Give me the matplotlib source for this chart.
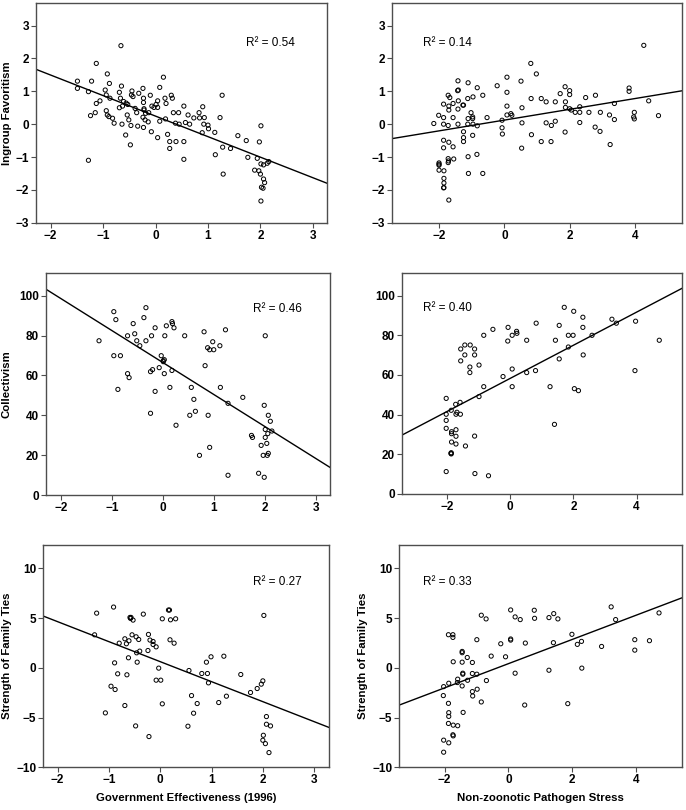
import matplotlib
matplotlib.use("Agg")
import matplotlib.pyplot as plt
import numpy as np

plt.rcParams['font.family'] = ['Liberation Sans', 'DejaVu Sans']

# ---------------- data ----------------
# Panel 1: Government effectiveness vs Ingroup favoritism
p1_x = [-0.66, -1.13, -1.49, -1.49, -1.22, -1.28, -0.92, -0.88, -0.65, -0.96, -0.94, -0.69, -1.06, -1.13,
        -0.87, -0.67, -0.45, -0.43, -0.46, -0.32, -0.24, -0.23, -0.23, -0.61, -0.56, -0.53, -0.69, -0.63,
        -0.94, -1.15, -1.24, -0.92, -0.89, -0.82, -0.79, -0.64, -0.54, -0.51, -0.47, -0.57, -0.48, -0.39,
        -0.36, -0.34, -0.23, -0.22, -0.22, -0.19, -0.24, -0.20, -0.14, -0.13, -0.10, -0.07, -0.03, 0.01,
        0.04, 0.04, 0.08, 0.15, -0.08, 0.04, 0.08, 0.18, 0.20, 0.19, 0.23, 0.27, 0.27, 0.30, 0.32, 0.34,
        0.38, 0.39, 0.44, 0.45, 0.54, 0.54, 0.54, 0.57, 0.62, 0.65, 0.73, 0.83, 0.84, 0.90, 0.93, 0.92,
        0.89, 1.00, 1.01, 1.13, 1.14, 1.23, 1.27, 1.28, 1.29, 1.43, 1.57, 1.73, 1.76, 1.94, 1.98, 2.01,
        2.01, 2.06, 2.13, 2.16, 1.89, 1.97, 2.00, 2.06, 2.08, 2.02, 2.05, 2.01, -1.28]
p1_y = [2.39, 1.85, 1.31, 1.09, 1.31, 0.99, 1.53, 1.24, 1.16, 1.04, 0.89, 0.97, 0.71, 0.63,
        0.79, 0.79, 1.01, 0.84, 0.89, 0.94, 1.09, 0.79, 0.66, 0.69, 0.64, 0.60, 0.50, 0.55,
        0.41, 0.35, 0.26, 0.28, 0.23, 0.18, 0.03, 0.00, 0.28, 0.13, -0.04, -0.33, -0.63, 0.48,
        0.35, -0.06, -0.10, 0.47, 0.43, 0.33, 0.21, 0.13, 0.07, 0.35, 0.88, 0.55, 0.51, 0.60,
        0.71, 0.51, 1.12, 1.43, -0.23, -0.41, 0.09, 0.79, 0.63, 0.16, -0.31, -0.53, -0.74, 0.88, 0.79, 0.35,
        0.03, -0.53, 0.35, 0.00, 0.55, -0.53, -1.07, 0.05, 0.28, 0.00, 0.19, 0.35, 0.19, 0.53, 0.20, 0.00,
        -0.26, -0.03, -0.14, -0.25, -0.93, 0.20, 0.88, -0.70, -1.52, -0.74, -0.35, -0.50, -1.01, -1.04, -0.54, -0.05,
        -1.21, -1.24, -1.19, -1.14, -1.40, -1.42, -1.52, -1.67, -1.78, -1.92, -1.95, -2.34, -1.10]

# Panel 2: Non-zoonotic pathogen stress vs Ingroup favoritism
p2_x = [-2.16, -2.01, -1.86, -1.86, -1.86, -1.72, -1.67, -1.70, -1.70, -1.72, -1.86, -1.70, -1.86, -1.57,
        -1.57, -1.57, -1.55, -1.42, -1.43, -1.41, -1.41, -1.42, -1.42, -1.27, -1.25, -1.25, -1.25, -1.25,
        -1.11, -1.12, -1.11, -1.12, -1.11, -1.10, -1.02, -0.96, -0.97, -0.97, -0.96, -0.97, -0.83, -0.83,
        -0.84, -0.66, -0.66, -2.00, -2.00, -2.00, -2.00, -1.85, -1.72, -1.71, -1.72, -1.85, -1.85, -1.85,
        -1.86, -1.70, -0.53, -0.22, -0.07, -0.07, -0.06, 0.08, 0.08, 0.08, 0.08, 0.20, 0.23, 0.51, 0.54,
        0.54, 0.53, 0.81, 0.82, 0.83, 0.98, 1.13, 1.13, 1.28, 1.28, 1.43, 1.44, 1.56, 1.56, 1.71, 1.86,
        1.87, 1.87, 1.86, 2.00, 2.00, 2.00, 2.05, 2.17, 2.31, 2.31, 2.31, 2.49, 2.59, 2.79, 2.78, 2.93,
        2.94, 3.22, 3.24, 3.37, 3.37, 3.82, 3.82, 3.98, 3.96, 3.98, 4.27, 4.42, 4.72]
p2_y = [0.02, 0.27, 0.20, 0.61, 0.00, 0.88, 0.81, 0.55, 0.43, -0.04, -0.49, -0.55, -0.72, 0.63,
        0.20, -0.69, -1.06, 1.32, 1.02, 1.04, 0.71, 0.46, 0.00, 0.58, 0.58, -0.23, -0.41, -0.53,
        1.26, 0.78, 0.17, 0.00, -0.99, -1.50, 0.35, 0.83, 0.22, 0.17, 0.00, -0.34, 1.11, -0.05,
        -0.92, 0.88, -1.50, -1.18, -1.22, -1.25, -1.40, -1.42, -1.05, -1.12, -1.17, -1.65, -1.79, -1.93,
        -1.94, -2.31, 0.20, 1.17, 0.12, -0.11, -0.30, 1.43, 0.97, 0.55, 0.28, 0.32, 0.27, 1.31, 0.50,
        0.04, -0.73, 1.85, 0.78, -0.32, 1.53, 0.78, -0.53, 0.68, 0.04, -0.53, -0.04, 0.68, 0.09, 0.93, 1.14,
        0.68, 0.51, -0.24, 1.02, 0.90, 0.47, 0.43, 0.36, 0.53, 0.36, 0.05, 0.81, 0.36, 0.88, -0.09, -0.22,
        0.36, 0.28, -0.62, 0.63, 0.14, 1.10, 1.00, 0.36, 0.22, 0.16, 2.40, 0.71, 0.26]

# Panel 3: Government effectiveness vs Collectivism
p3_x = [-1.25, -0.96, -0.92, -0.96, -0.83, -0.88, -0.69, -0.69, -0.66, -0.58, -0.55, -0.51, -0.45, -0.37,
        -0.33, -0.33, -0.24, -0.24, -0.22, -0.20, -0.15, -0.15, -0.07, -0.03, 0.01, 0.01, 0.03, 0.03,
        0.04, 0.07, 0.14, 0.18, 0.18, 0.19, 0.22, 0.26, 0.43, 0.53, 0.56, 0.61, 0.64, 0.72, 0.81, 0.83,
        0.88, 0.89, 0.92, 0.92, 0.98, 1.00, 1.12, 1.13, 1.23, 1.28, 1.28, 1.57, 1.74, 1.76, 1.93, 1.88,
        1.99, 2.01, 1.97, 1.99, 2.01, 2.01, 2.04, 2.06, 2.05, 2.07, 2.07, 2.11, 2.14]
p3_y = [77.4, 92.0, 88.0, 69.9, 69.9, 53.0, 79.9, 60.9, 58.9, 86.0, 80.9, 77.4, 74.9, 89.0,
        94.0, 77.4, 61.9, 41.0, 79.9, 62.9, 83.9, 52.0, 63.9, 69.9, 67.4, 66.9, 67.9, 60.9,
        79.9, 84.9, 54.0, 62.5, 87.0, 86.0, 83.9, 35.0, 79.9, 40.0, 54.0, 48.0, 42.0, 19.9, 81.9, 64.9,
        73.9, 40.0, 72.9, 23.9, 76.9, 72.9, 74.9, 54.0, 82.9, 46.0, 9.9, 49.0, 29.9, 28.9, 24.9, 10.9,
        45.0, 79.9, 19.9, 8.9, 32.9, 28.9, 25.9, 30.8, 19.9, 20.9, 40.0, 37.0, 32.1]

# Panel 4: Non-zoonotic pathogen stress vs Collectivism
p4_x = [-2.03, -2.03, -2.03, -2.03, -2.03, -1.87, -1.86, -1.86, -1.86, -1.87, -1.87, -1.88, -1.73, -1.72,
        -1.69, -1.72, -1.72, -1.72, -1.59, -1.58, -1.57, -1.57, -1.44, -1.44, -1.42, -1.27, -1.28, -1.28,
        -1.13, -1.13, -1.13, -1.12, -0.99, -0.99, -0.84, -0.84, -0.69, -0.55, -0.23, -0.08, -0.07, 0.06,
        0.06, 0.06, 0.20, 0.21, 0.52, 0.52, 0.80, 0.82, 1.26, 1.40, 1.43, 1.55, 1.55, 1.71, 1.84, 1.84,
        1.99, 2.01, 2.03, 2.16, 2.30, 2.30, 2.31, 2.59, 3.22, 3.36, 3.97, 3.95, 4.72]
p4_y = [48.2, 40.2, 37.1, 33.1, 11.3, 42.2, 31.4, 30.4, 26.2, 20.8, 20.2, 20.5, 45.2, 40.2,
        41.2, 32.4, 29.1, 25.2, 46.2, 40.2, 67.1, 73.1, 75.1, 70.1, 24.2, 75.1, 64.0, 61.2,
        73.1, 70.1, 29.2, 10.3, 65.0, 49.1, 54.1, 80.0, 9.2, 83.0, 59.2, 77.1, 84.0, 80.0,
        63.0, 54.1, 82.0, 81.0, 77.5, 61.2, 62.2, 86.1, 54.1, 35.1, 77.5, 85.0, 68.1, 94.1, 80.0, 74.1,
        80.0, 92.1, 53.1, 52.1, 89.1, 84.0, 70.1, 80.0, 88.1, 86.1, 87.1, 62.2, 77.5]

# Panel 5: Government effectiveness vs Strength of family ties
p5_x = [-1.24, -1.28, -0.91, -0.89, -0.96, -0.88, -1.07, -0.83, -0.80, -0.69, -0.66, -0.61, -0.65, -0.62,
        -0.69, -0.59, -0.57, -0.58, -0.53, -0.55, -0.47, -0.42, -0.46, -0.40, -0.45, -0.48, -0.33, -0.23,
        -0.20, -0.14, -0.14, -0.08, -0.24, -0.03, -0.08, 0.01, 0.04, -0.22, 0.04, 0.16, 0.18, 0.20, 0.19,
        0.27, 0.30, 0.56, 0.54, 0.61, 0.65, 0.72, 0.81, 0.90, 0.92, 0.94, 0.99, 1.14, 1.24, 1.29, 1.57,
        1.76, 1.89, 1.97, 2.00, 2.02, 2.01, 2.00, 2.05, 2.07, 2.07, 2.15, 2.12]
p5_y = [5.50, 3.32, 6.11, 0.50, -1.85, -2.18, -4.53, -0.60, 2.48, 2.92, 2.42, 2.72, -0.70, 1.01,
        -3.79, 5.07, 5.07, 4.97, 4.80, 3.32, 3.12, 2.85, 1.51, 1.68, 0.57, -5.84, 5.40, 3.36,
        2.79, 2.65, 2.35, 2.11, 1.74, -0.03, -1.24, -1.24, -3.62, -6.91, 4.93, 5.81, 5.81, 4.83, 2.82,
        2.48, 4.93, -0.27, -5.87, -2.79, -4.56, -3.59, -0.57, 0.57, -0.57, -1.51, 1.11, -3.49, 1.17, -2.85, -0.67,
        -2.48, -2.08, -1.64, -1.31, 5.27, -6.78, -7.28, -7.62, -4.90, -5.67, -5.84, -8.52]

# Panel 6: Non-zoonotic pathogen stress vs Strength of family ties
p6_x = [-2.03, -2.04, -2.03, -2.03, -1.87, -1.88, -1.88, -1.87, -1.87, -1.88, -1.87, -1.74, -1.74, -1.73,
        -1.73, -1.74, -1.73, -1.59, -1.59, -1.60, -1.45, -1.45, -1.45, -1.43, -1.43, -1.45, -1.42, -1.29,
        -1.28, -1.13, -1.13, -1.13, -1.12, -0.99, -0.99, -0.98, -0.85, -0.85, -0.70, -0.69, -0.54, -0.24,
        -0.09, 0.07, 0.07, 0.07, 0.21, 0.21, 0.37, 0.53, 0.51, 0.81, 0.82, 1.27, 1.27, 1.42, 1.41, 1.55,
        1.86, 1.99, 2.16, 2.29, 2.30, 2.92, 3.22, 3.36, 3.96, 3.96, 4.42, 4.72]
p6_y = [-1.89, -2.79, -8.48, -7.27, -1.55, 3.33, -3.57, -4.51, -4.88, -5.59, -7.54, 3.33, 3.06, 0.61,
        -5.76, -6.73, -6.84, -5.82, -1.14, -1.48, 1.65, 1.52, 0.57, -0.54, -0.64, -1.82, -4.48, 1.04,
        -1.25, 0.54, -0.57, -2.39, -2.83, 2.83, -0.64, -2.15, -3.43, 5.29, 4.92, -1.28, 1.18, 2.42,
        1.11, 5.82, 2.90, 2.79, 5.12, -0.54, 4.85, 2.49, -3.74, 5.79, 4.98, 5.05, -0.24, 5.45, 2.53, 4.92,
        -3.60, 3.37, 2.36, 2.66, -0.03, 2.15, 6.13, 4.85, 2.83, 1.78, 2.73, 5.52]

# fitted regression lines (slope, intercept) and R^2 labels
fit_slopes = [-0.625, 0.164, -16.05, 8.34, -2.01, 1.217]
fit_intercepts = [0.245, 0.124, 66.5, 58.3, 0.62, 0.42]
r2_labels = ["R\u00b2 = 0.54", "R\u00b2 = 0.14", "R\u00b2 = 0.46", "R\u00b2 = 0.40", "R\u00b2 = 0.27", "R\u00b2 = 0.33"]

y_labels = ["Ingroup Favoritism", "", "Collectivism", "", "Strength of Family Ties", "Strength of Family Ties"]
x_labels = ["", "", "", "", "Government Effectiveness (1996)", "Non-zoonotic Pathogen Stress"]

x_ticks_ge = [-2, -1, 0, 1, 2, 3]
x_ticks_ps = [-2, 0, 2, 4]
y_ticks_if = [-3, -2, -1, 0, 1, 2, 3]
y_ticks_col = [0, 20, 40, 60, 80, 100]
y_ticks_ft = [-10, -5, 0, 5, 10]

# ---------------- layout ----------------
W, H = 686, 810
fig = plt.figure(figsize=(W / 100, H / 100), dpi=100)

# pixel boxes: left, right, top, bottom
boxes = [
    (36, 327, 3.3, 222.7),
    (392, 682, 3.3, 222.7),
    (46, 330, 273, 495),
    (402, 682, 273, 494),
    (43.3, 329, 545, 767.3),
    (399.3, 682, 545, 767.3),
]
xlims = [(-2.28, 3.27), (-3.44, 5.44), (-2.29, 3.28), (-3.43, 5.44), (-2.28, 3.29), (-3.42, 5.44)]
ylims = [(-3, 3.68), (-3, 3.68), (0, 111.4), (0, 111.4), (-10, 12.35), (-10, 12.35)]
xticks = [x_ticks_ge, x_ticks_ps, x_ticks_ge, x_ticks_ps, x_ticks_ge, x_ticks_ps]
yticks = [y_ticks_if, y_ticks_if, y_ticks_col, y_ticks_col, y_ticks_ft, y_ticks_ft]
r2_pos = [(0.72, 0.82), (0.106, 0.82), (0.73, 0.84), (0.074, 0.84), (0.734, 0.834), (0.083, 0.834)]
ylab_x = [7, None, 7, None, 7, 362.7]

xs = [p1_x, p2_x, p3_x, p4_x, p5_x, p6_x]
ys = [p1_y, p2_y, p3_y, p4_y, p5_y, p6_y]

spine_col = '#4d4d4d'
for i in range(6):
    l, r, t, b = boxes[i]
    ax = fig.add_axes([l / W, 1 - b / H, (r - l) / W, (b - t) / H])
    ax.scatter(xs[i], ys[i], s=9, facecolors='none', edgecolors='black', linewidths=0.7, zorder=3)
    x0, x1 = xlims[i]
    lx = np.array([x0, x1])
    ax.plot(lx, fit_slopes[i] * lx + fit_intercepts[i], color='black', lw=1.0, zorder=2)
    ax.set_xlim(*xlims[i])
    ax.set_ylim(*ylims[i])
    ax.set_xticks(xticks[i])
    ax.set_yticks(yticks[i])
    for s in ax.spines.values():
        s.set_color(spine_col)
        s.set_linewidth(1.0)
    ax.tick_params(axis='both', direction='out', length=3.5, width=0.8, color=spine_col,
                   labelsize=8.5, pad=1.5, top=False, right=False)
    for lab in ax.get_xticklabels() + ax.get_yticklabels():
        lab.set_fontweight('bold')
    ax.text(r2_pos[i][0], r2_pos[i][1], r2_labels[i], transform=ax.transAxes,
            fontsize=8.5, ha='left', va='center')
    if y_labels[i]:
        yc = 1 - ((t + b) / 2) / H
        fig.text(ylab_x[i] / W, yc, y_labels[i], rotation=90, ha='center', va='center',
                 fontsize=8.2, fontweight='bold')
    if x_labels[i]:
        fig.text(((l + r) / 2) / W, 1 - 798 / H, x_labels[i], ha='center', va='center',
                 fontsize=8.2, fontweight='bold')

fig.savefig("out.png", dpi=100)
